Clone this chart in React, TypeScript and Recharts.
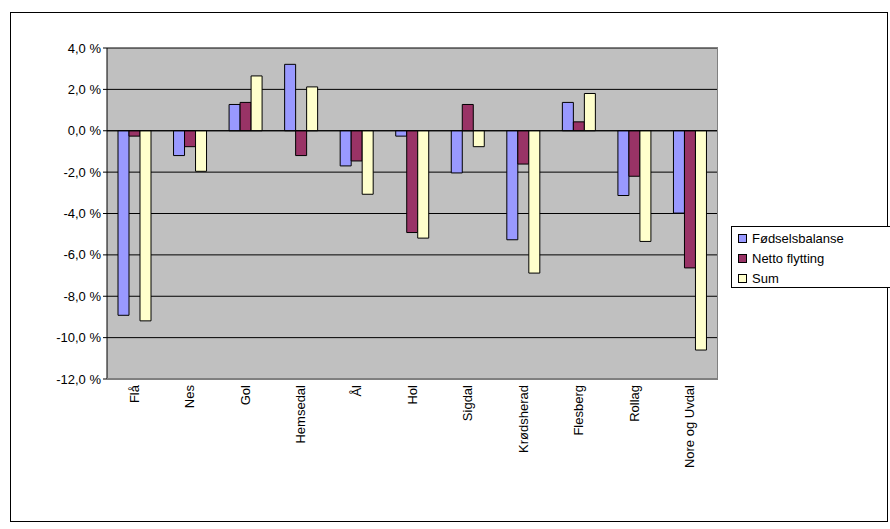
import { BarChart, Bar, XAxis, YAxis, CartesianGrid, ReferenceLine } from "recharts"

const categories = ["Flå", "Nes", "Gol", "Hemsedal", "Ål", "Hol", "Sigdal", "Krødsherad", "Flesberg", "Rollag", "Nore og Uvdal"]
const fodsel = [-8.92, -1.2, 1.27, 3.21, -1.7, -0.26, -2.04, -5.27, 1.37, -3.13, -3.98]
const netto = [-0.26, -0.77, 1.37, -1.2, -1.46, -4.92, 1.27, -1.61, 0.43, -2.2, -6.63]
const sum = [-9.19, -1.96, 2.65, 2.12, -3.07, -5.19, -0.77, -6.88, 1.8, -5.35, -10.6]
const yTicks = [4, 2, 0, -2, -4, -6, -8, -10, -12]

const data = categories.map((name, i) => ({ name, fodsel: fodsel[i], netto: netto[i], sum: sum[i] }))

const font = "'Liberation Sans', Arial, sans-serif"

const fmt = (v: number) => v.toFixed(1).replace(".", ",") + " %"

const XTick = (props: any) => {
  const { x, y, payload } = props
  return (
    <text x={x} y={y} transform={`rotate(-90, ${x}, ${y})`} textAnchor="end" dy={4} fontSize={13} fill="#000" fontFamily={font}>
      {payload.value}
    </text>
  )
}

const legend = [
  { label: "Fødselsbalanse", color: "#9999FF" },
  { label: "Netto flytting", color: "#993366" },
  { label: "Sum", color: "#FFFFCC" },
]

export default function App() {
  return (
    <div style={{ position: "absolute", left: 0, top: 0, width: 890, height: 529, background: "#fff", fontFamily: font }}>
      <div style={{ position: "absolute", left: 10, top: 12, width: 876, height: 508, border: "1px solid #000" }} />
      <BarChart width={890} height={529} data={data} margin={{ top: 48, right: 172, bottom: 0, left: 0 }} barSize={11} barGap={0}>
        <CartesianGrid vertical={false} stroke="#000" fill="#C0C0C0" />
        <XAxis dataKey="name" height={150} axisLine={false} tickLine={false} tick={<XTick />} interval={0} tickMargin={0} />
        <YAxis width={107} domain={[-12, 4]} ticks={yTicks} tickFormatter={fmt} stroke="#000" tick={{ fontSize: 13, fill: "#000", fontFamily: font }} tickSize={4} interval={0} />
        <ReferenceLine y={0} stroke="#000" />
        <Bar dataKey="fodsel" fill="#9999FF" stroke="#000" strokeWidth={1} isAnimationActive={false} />
        <Bar dataKey="netto" fill="#993366" stroke="#000" strokeWidth={1} isAnimationActive={false} />
        <Bar dataKey="sum" fill="#FFFFCC" stroke="#000" strokeWidth={1} isAnimationActive={false} />
      </BarChart>
      <div style={{ position: "absolute", left: 107, top: 48, width: 610, height: 330, borderRight: "1px solid #808080", borderBottom: "1px solid #808080", pointerEvents: "none" }} />
      <div style={{ position: "absolute", left: 731, top: 226, width: 160, height: 62, border: "1px solid #000", background: "#fff", boxSizing: "border-box", paddingTop: 1, fontSize: 13 }}>
        {legend.map((l) => (
          <div key={l.label} style={{ display: "flex", alignItems: "center", height: 20, paddingLeft: 6 }}>
            <span style={{ width: 7, height: 7, background: l.color, border: "1px solid #000", marginRight: 5 }} />
            {l.label}
          </div>
        ))}
      </div>
    </div>
  )
}
